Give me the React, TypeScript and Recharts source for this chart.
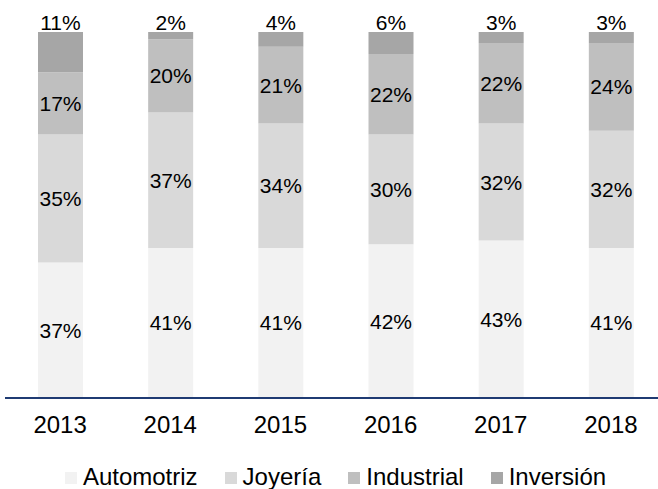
import React from "react";
import { BarChart, Bar, XAxis, YAxis, Legend, LabelList } from "recharts";

const years = ["2013", "2014", "2015", "2016", "2017", "2018"];
const automotriz = [37, 41, 41, 42, 43, 41];
const joyeria = [35, 37, 34, 30, 32, 32];
const industrial = [17, 20, 21, 22, 22, 24];
const inversion = [11, 2, 4, 6, 3, 3];

const series = [
  { key: "automotriz", name: "Automotriz", color: "#F2F2F2", values: automotriz },
  { key: "joyeria", name: "Joyería", color: "#D9D9D9", values: joyeria },
  { key: "industrial", name: "Industrial", color: "#BFBFBF", values: industrial },
  { key: "inversion", name: "Inversión", color: "#A6A6A6", values: inversion },
];

const data = years.map((y, i) => {
  const row: Record<string, string | number> = { year: y };
  series.forEach((s) => {
    row[s.key] = s.values[i];
  });
  return row;
});

const FONT = "'Liberation Sans', Arial, sans-serif";

const pct = (v: any) => `${v}%`;

const LegendContent = () => (
  <div
    style={{
      display: "flex",
      justifyContent: "center",
      alignItems: "center",
      height: 41,
      boxSizing: "border-box",
      paddingTop: 17,
      fontFamily: FONT,
      fontSize: 24,
      lineHeight: "24px",
      color: "#000",
    }}
  >
    {series.map((s, i) => (
      <div
        key={s.key}
        style={{
          display: "flex",
          alignItems: "center",
          marginRight: i < series.length - 1 ? 27 : 0,
        }}
      >
        <span
          style={{
            display: "inline-block",
            width: 12,
            height: 12,
            background: s.color,
            marginRight: 6,
            marginTop: 2,
          }}
        />
        <span>{s.name}</span>
      </div>
    ))}
  </div>
);

export default function App() {
  return (
    <div
      style={{
        position: "absolute",
        left: 0,
        top: 0,
        width: 658,
        height: 489,
        overflow: "hidden",
        background: "#fff",
      }}
    >
      <BarChart
        width={666}
        height={489}
        data={data}
        margin={{ top: 32, right: 0, left: 5, bottom: 0 }}
        barSize={45}
      >
        <XAxis
          dataKey="year"
          height={50}
          axisLine={{ stroke: "#1F3B73", strokeWidth: 2 }}
          tickLine={false}
          tickSize={6}
          tickMargin={12}
          tick={{ fill: "#000", fontSize: 24, fontFamily: FONT }}
        />
        <YAxis hide domain={[0, 100]} />
        <Legend verticalAlign="bottom" height={41} content={<LegendContent />} />
        {series.map((s, idx) => (
          <Bar
            key={s.key}
            dataKey={s.key}
            name={s.name}
            stackId="a"
            fill={s.color}
            isAnimationActive={false}
          >
            <LabelList
              dataKey={s.key}
              position={idx === series.length - 1 ? "top" : "center"}
              offset={idx === series.length - 1 ? 2 : 5}
              formatter={pct}
              fill="#000"
              fontSize={21}
              fontFamily={FONT}
            />
          </Bar>
        ))}
      </BarChart>
    </div>
  );
}
